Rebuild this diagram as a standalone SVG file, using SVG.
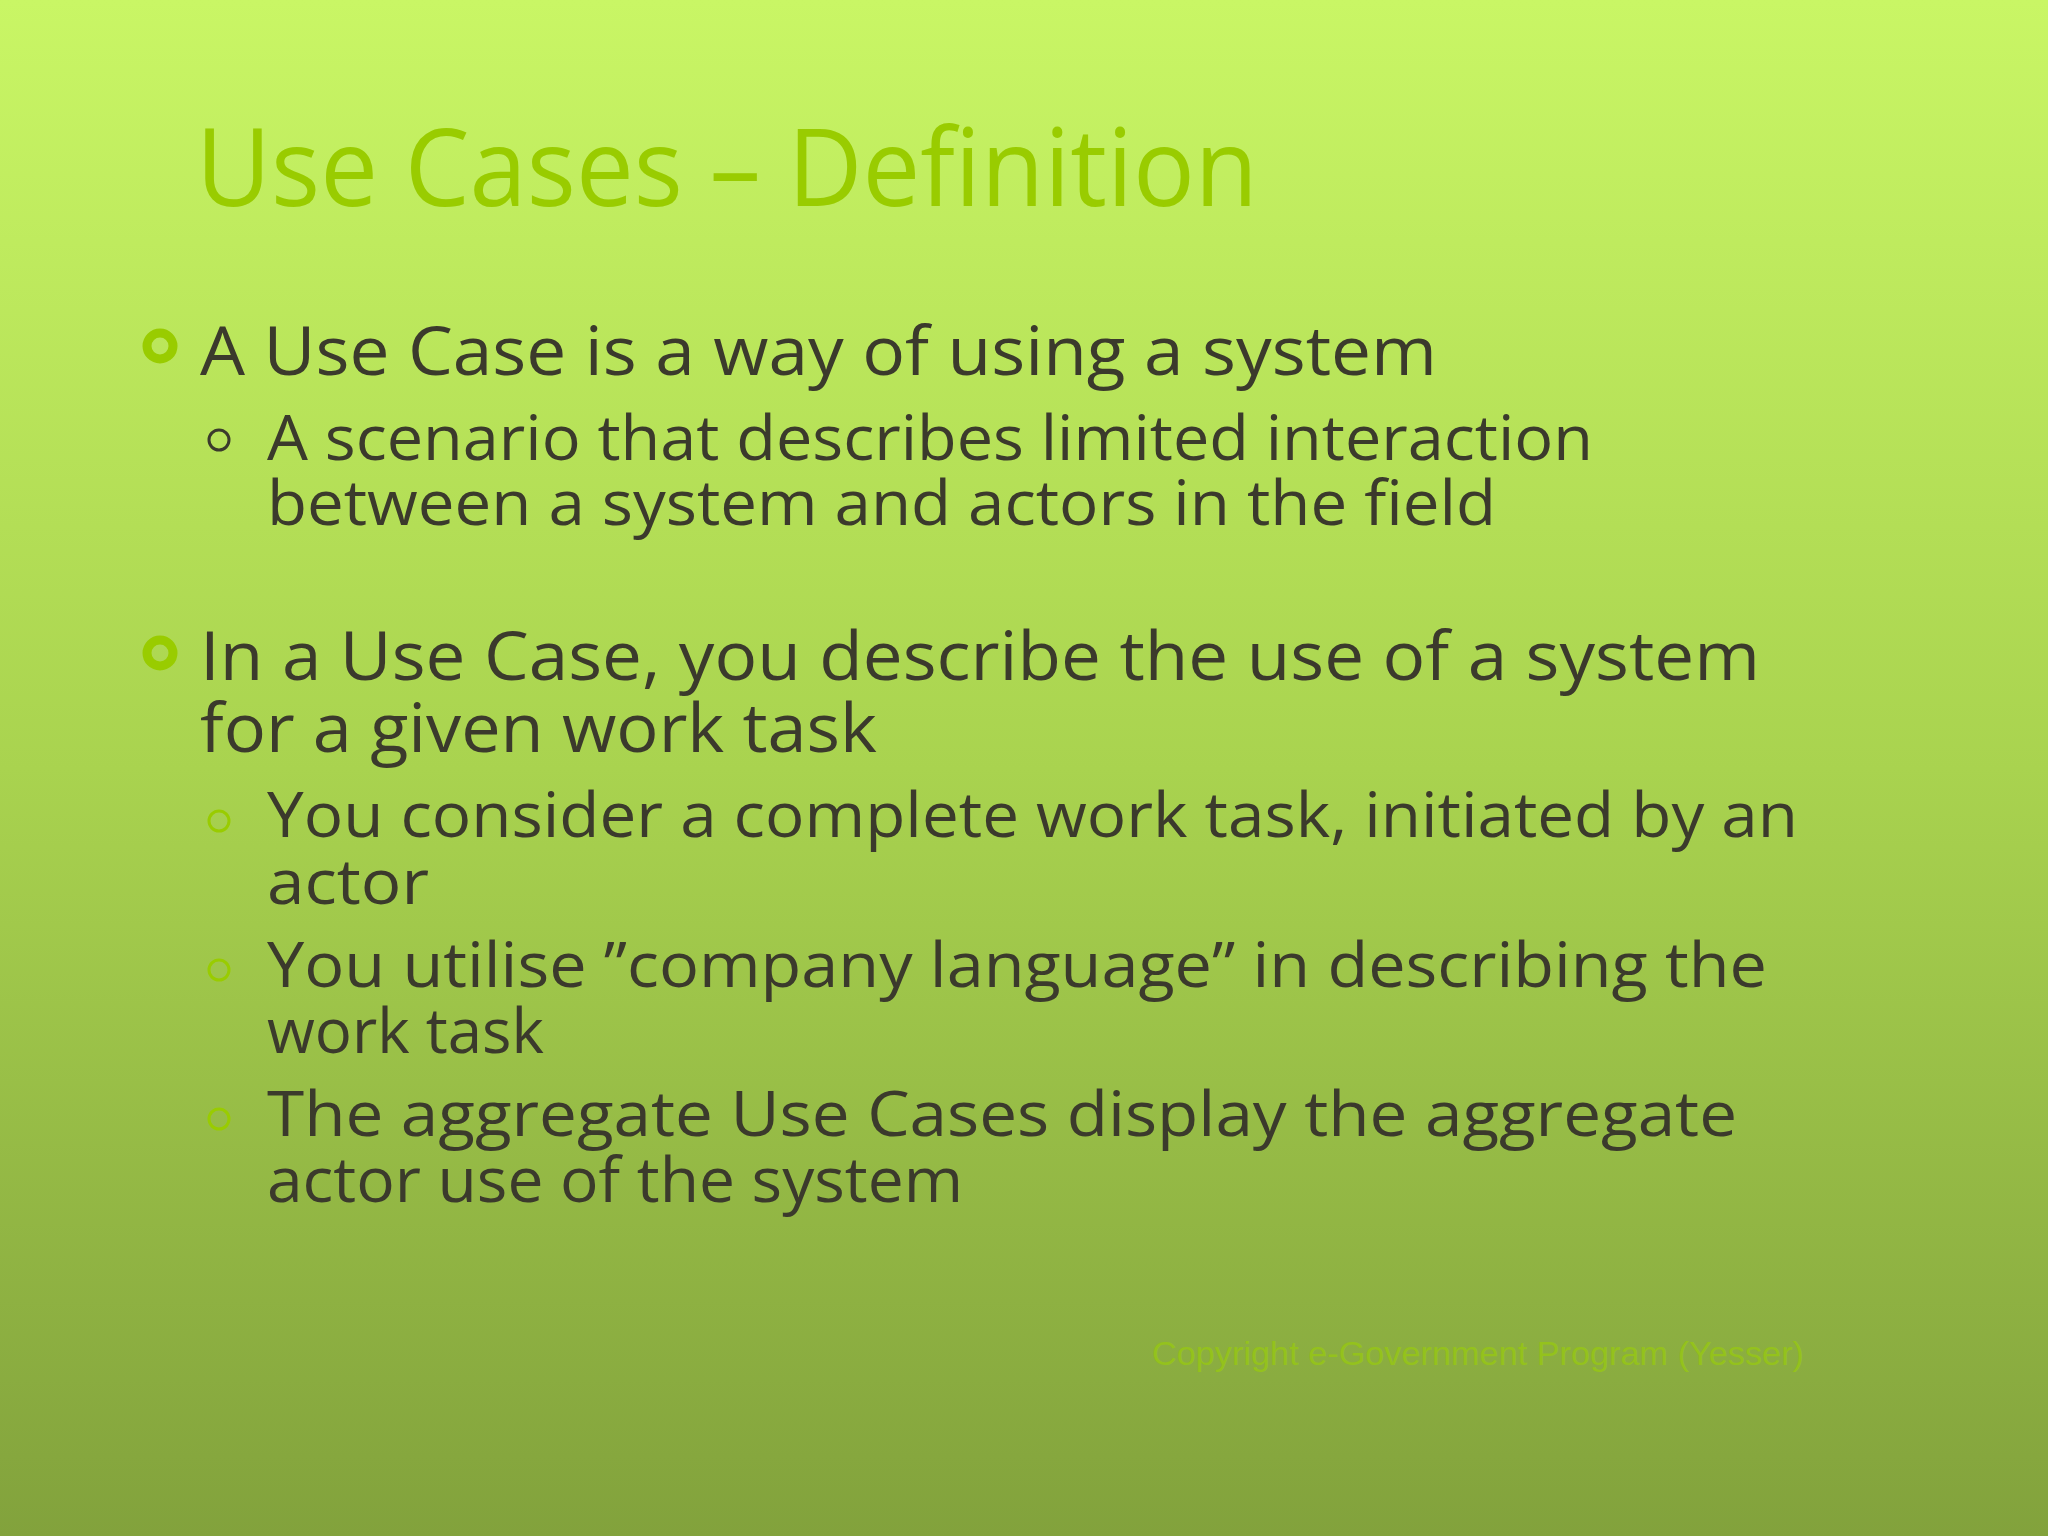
<svg xmlns="http://www.w3.org/2000/svg" width="2048" height="1536" viewBox="0 0 2048 1536">
<defs>
<linearGradient id="bg" x1="0" y1="0" x2="0" y2="1">
<stop offset="0" stop-color="#c9f665"/>
<stop offset="0.5" stop-color="#a9d34f"/>
<stop offset="1" stop-color="#82a23c"/>
</linearGradient>
</defs>
<style>
.t{font-family:"Open Sans","Liberation Sans",sans-serif;fill:#3b3a2c}
.b{font-size:68px}
.s{font-size:62px}
</style>
<rect width="2048" height="1536" fill="url(#bg)"/>
<g id="title"><text x="196" y="206" font-family="Open Sans, Liberation Sans, sans-serif" font-size="108" fill="#99cc00" textLength="1062" lengthAdjust="spacingAndGlyphs">Use Cases – Definition</text></g>
<g id="bullets">
<circle cx="160" cy="346" r="13" fill="none" stroke="#99cc00" stroke-width="9"/>
<circle cx="160" cy="653" r="13" fill="none" stroke="#99cc00" stroke-width="9"/>
<circle cx="219" cy="440" r="10" fill="none" stroke="#3b3a2c" stroke-width="3"/>
<circle cx="219" cy="821" r="10" fill="none" stroke="#99cc00" stroke-width="3"/>
<circle cx="219" cy="970" r="10" fill="none" stroke="#99cc00" stroke-width="3"/>
<circle cx="219" cy="1119" r="10" fill="none" stroke="#99cc00" stroke-width="3"/>
</g>
<g id="text">
<text class="t b" x="200" y="375" textLength="1237" lengthAdjust="spacingAndGlyphs">A Use Case is a way of using a system</text>
<text class="t s" x="267" y="460" textLength="1326" lengthAdjust="spacingAndGlyphs">A scenario that describes limited interaction</text>
<text class="t s" x="267" y="525" textLength="1229" lengthAdjust="spacingAndGlyphs">between a system and actors in the field</text>
<text class="t b" x="200" y="680" textLength="1560" lengthAdjust="spacingAndGlyphs">In a Use Case, you describe the use of a system</text>
<text class="t b" x="200" y="752" textLength="677" lengthAdjust="spacingAndGlyphs">for a given work task</text>
<text class="t s" x="267" y="837" textLength="1531" lengthAdjust="spacingAndGlyphs">You consider a complete work task, initiated by an</text>
<text class="t s" x="267" y="904" textLength="162" lengthAdjust="spacingAndGlyphs">actor</text>
<text class="t s" x="267" y="987" textLength="1500" lengthAdjust="spacingAndGlyphs">You utilise ”company language” in describing the</text>
<text class="t s" x="267" y="1053" textLength="277" lengthAdjust="spacingAndGlyphs">work task</text>
<text class="t s" x="267" y="1136" textLength="1470" lengthAdjust="spacingAndGlyphs">The aggregate Use Cases display the aggregate</text>
<text class="t s" x="267" y="1202" textLength="696" lengthAdjust="spacingAndGlyphs">actor use of the system</text>
<text x="1152" y="1365" font-family="Liberation Sans, sans-serif" font-size="34" fill="#94c21c" textLength="652" lengthAdjust="spacingAndGlyphs">Copyright e-Government Program (Yesser)</text>
</g>
</svg>
